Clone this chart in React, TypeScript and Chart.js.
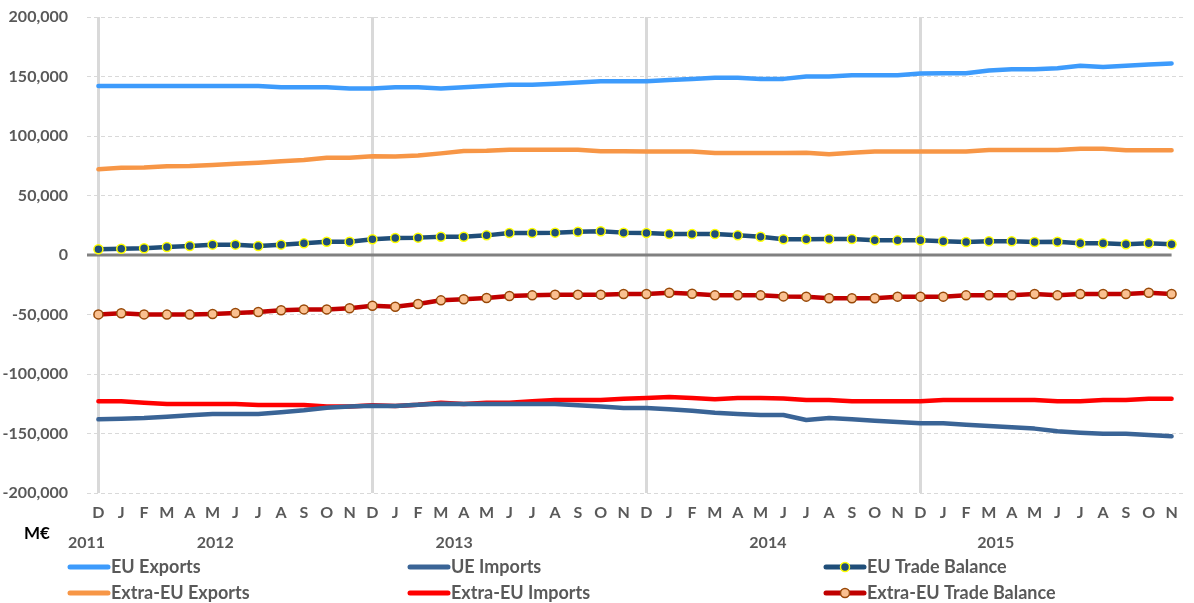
import React, { useEffect, useRef } from 'react';
import { Chart, registerables } from 'chart.js';

Chart.register(...registerables);

const monthLabels = [
  'D', 'J', 'F', 'M', 'A', 'M', 'J', 'J', 'A', 'S', 'O', 'N',
  'D', 'J', 'F', 'M', 'A', 'M', 'J', 'J', 'A', 'S', 'O', 'N',
  'D', 'J', 'F', 'M', 'A', 'M', 'J', 'J', 'A', 'S', 'O', 'N',
  'D', 'J', 'F', 'M', 'A', 'M', 'J', 'J', 'A', 'S', 'O', 'N',
];

const yearLabels = ['2011', '2012', '2013', '2014', '2015'];
const yearLabelPos = [-0.52, 5.12, 15.58, 29.32, 39.3];

const yTicks = [-200000, -150000, -100000, -50000, 0, 50000, 100000, 150000, 200000];

const euExports = [
  142000, 142000, 142000, 142000, 142000, 142000, 142000, 142000, 141000, 141000, 141000, 140000,
  140000, 141000, 141000, 140000, 141000, 142000, 143000, 143000, 144000, 145000, 146000, 146000,
  146000, 147000, 148000, 149000, 149000, 148000, 148000, 150000, 150000, 151000, 151000, 151000,
  152500, 152700, 152700, 155000, 156000, 156000, 157000, 159000, 158000, 159000, 160000, 161000,
];

const ueImports = [
  -138100, -137600, -137000, -135900, -134700, -133600, -133600, -133600, -132200, -130500, -128300, -127400,
  -126600, -126900, -125800, -125000, -125200, -125200, -125200, -125200, -125200, -126300, -127400, -128600,
  -128600, -129700, -130800, -132500, -133600, -134400, -134500, -138600, -137000, -138100, -139200, -140300,
  -141400, -141400, -142600, -143700, -144800, -145900, -148200, -149300, -150200, -150200, -151300, -152400,
];

const euTradeBalance = [
  4800, 5300, 5600, 6700, 7600, 8700, 8700, 7600, 8700, 9800, 11200, 11200,
  13200, 14300, 14600, 15400, 15400, 16500, 18500, 18500, 18800, 19600, 19900, 18800,
  18500, 17600, 17600, 17600, 16500, 15400, 13300, 13200, 13400, 13400, 12300, 12300,
  12300, 11500, 10900, 11500, 11500, 10900, 11200, 9800, 9800, 9000, 9800, 9000,
];

const extraEuExports = [
  72000, 73400, 73500, 74500, 74800, 75600, 76700, 77600, 78700, 79800, 81800, 81800,
  82900, 82800, 83700, 85400, 87400, 87600, 88500, 88500, 88500, 88500, 87100, 87100,
  87000, 87000, 87000, 85700, 85700, 85700, 85800, 86000, 84600, 86000, 87000, 87000,
  87000, 87000, 87000, 88200, 88200, 88200, 88200, 89300, 89300, 88000, 88000, 88000,
];

const extraEuImports = [
  -122900, -122900, -124100, -125200, -125200, -125200, -125200, -126000, -126000, -126000, -127400, -127400,
  -126300, -126900, -125800, -124100, -125200, -124100, -124100, -122900, -121800, -121800, -121800, -120700,
  -120200, -119300, -120200, -121300, -120200, -120200, -120500, -121800, -121800, -122900, -122900, -122900,
  -122900, -121800, -121800, -121800, -121800, -121800, -122900, -122900, -121800, -121800, -120700, -120700,
];

const extraEuTradeBalance = [
  -49900, -49000, -49900, -50100, -50100, -49600, -48700, -47900, -46500, -45700, -45700, -44800,
  -42600, -43500, -41200, -38100, -37200, -36100, -34500, -33900, -33300, -33300, -33300, -32800,
  -32800, -31700, -32500, -33900, -33900, -33900, -34800, -35000, -36400, -36400, -36400, -35000,
  -35000, -35000, -33900, -33900, -33900, -32800, -33900, -32800, -32800, -32800, -31700, -32800,
];

const legendColX = [70, 410, 826];
const legendRowY = [567, 593];

const TEXT = '#595959';
const FONT = 'Lato, "Open Sans", sans-serif';

const overlayPlugin = {
  id: 'overlay',
  beforeDatasetsDraw(chart: any) {
    const { ctx, chartArea, scales } = chart;
    const x = scales.x;
    const y = scales.y;
    const y0 = y.getPixelForValue(0);
    ctx.save();
    ctx.strokeStyle = '#808080';
    ctx.lineWidth = 3;
    ctx.beginPath();
    ctx.moveTo(chartArea.left, y0);
    ctx.lineTo(x.getPixelForValue(monthLabels.length - 1), y0);
    ctx.stroke();
    ctx.restore();
  },
  afterDraw(chart: any) {
    const { ctx, scales } = chart;
    const x = scales.x;
    ctx.save();
    ctx.font = `bold 16px ${FONT}`;
    ctx.fillStyle = TEXT;
    ctx.textAlign = 'center';
    ctx.textBaseline = 'middle';
    yearLabels.forEach((t, i) => {
      ctx.fillText(t, x.getPixelForValue(yearLabelPos[i]), 543);
    });
    ctx.fillStyle = '#000000';
    ctx.font = `bold 17px ${FONT}`;
    ctx.textAlign = 'left';
    ctx.fillText('M€', 24, 534);

    ctx.font = `bold 18px ${FONT}`;
    chart.data.datasets.forEach((ds: any, k: number) => {
      const col = k % 3;
      const row = Math.floor(k / 3);
      const lx = legendColX[col];
      const ly = legendRowY[row];
      ctx.strokeStyle = ds.borderColor;
      ctx.lineWidth = 5;
      ctx.lineCap = 'round';
      ctx.beginPath();
      ctx.moveTo(lx, ly);
      ctx.lineTo(lx + 38, ly);
      ctx.stroke();
      if (ds.pointRadius > 0) {
        ctx.beginPath();
        ctx.arc(lx + 19, ly, 4.5, 0, Math.PI * 2);
        ctx.fillStyle = ds.pointBackgroundColor;
        ctx.fill();
        ctx.lineWidth = 1.5;
        ctx.strokeStyle = ds.pointBorderColor;
        ctx.stroke();
      }
      ctx.fillStyle = TEXT;
      ctx.textAlign = 'left';
      ctx.textBaseline = 'middle';
      ctx.fillText(ds.label, lx + 41, ly);
    });
    ctx.restore();
  },
};

export default function App() {
  const canvasRef = useRef<HTMLCanvasElement | null>(null);

  useEffect(() => {
    document.body.style.margin = '0';
    const canvas = canvasRef.current;
    if (!canvas) return;
    Chart.defaults.font.family = FONT;

    const lineDs = (label: string, data: number[], color: string) => ({
      label,
      data,
      borderColor: color,
      backgroundColor: color,
      borderWidth: 4.5,
      pointRadius: 0,
      pointHoverRadius: 0,
      tension: 0,
      borderCapStyle: 'round',
      borderJoinStyle: 'round',
    });
    const markerDs = (label: string, data: number[], color: string, fill: string, border: string) => ({
      label,
      data,
      borderColor: color,
      backgroundColor: color,
      borderWidth: 4.5,
      pointRadius: 4.5,
      pointHoverRadius: 4.5,
      pointBackgroundColor: fill,
      pointBorderColor: border,
      pointBorderWidth: 1.5,
      tension: 0,
      borderCapStyle: 'round',
      borderJoinStyle: 'round',
    });

    const chart = new Chart(canvas, {
      type: 'line',
      data: {
        labels: monthLabels,
        datasets: [
          lineDs('EU Exports', euExports, '#3d9bfc'),
          lineDs('UE Imports', ueImports, '#3a6496'),
          markerDs('EU Trade Balance', euTradeBalance, '#1f4e79', '#1f4e79', '#ffff00'),
          lineDs('Extra-EU Exports', extraEuExports, '#f79646'),
          lineDs('Extra-EU Imports', extraEuImports, '#ff0000'),
          markerDs('Extra-EU Trade Balance', extraEuTradeBalance, '#c00000', '#fac090', '#984807'),
        ] as any,
      },
      options: {
        animation: false,
        responsive: true,
        maintainAspectRatio: false,
        layout: { padding: { left: 0, right: 11, top: 17, bottom: 80 } },
        plugins: {
          legend: { display: false },
          tooltip: { enabled: false },
        },
        scales: {
          x: {
            type: 'category',
            offset: true,
            afterFit: (s: any) => { s.height = 30; },
            grid: {
              offset: false,
              drawTicks: false,
              color: (c: any) => (c.index % 12 === 0 ? '#d9d9d9' : 'rgba(0,0,0,0)'),
              lineWidth: (c: any) => (c.index % 12 === 0 ? 3 : 0),
            },
            border: { display: false },
            ticks: {
              autoSkip: false,
              maxRotation: 0,
              minRotation: 0,
              padding: 10,
              color: TEXT,
              font: { size: 16, weight: 'bold', family: FONT },
            },
          },
          y: {
            min: -200000,
            max: 200000,
            afterFit: (s: any) => {
              s.width = 87;
              s.paddingTop = 8;
              s.paddingBottom = 8;
            },
            afterBuildTicks: (s: any) => { s.ticks = yTicks.map((v) => ({ value: v })); },
            grid: {
              drawTicks: false,
              color: (c: any) => (c.tick && c.tick.value === 0 ? 'rgba(0,0,0,0)' : '#d9d9d9'),
              lineWidth: 1,
            },
            border: { display: false, dash: [4, 3] },
            ticks: {
              padding: 19,
              color: TEXT,
              font: { size: 16, weight: 'bold', family: FONT },
              callback: (v: any) => Number(v).toLocaleString('en-US'),
            },
          },
        },
      },
      plugins: [overlayPlugin],
    } as any);

    return () => chart.destroy();
  }, []);

  return (
    <div style={{ width: 1194, height: 603, position: 'relative', background: '#ffffff' }}>
      <canvas ref={canvasRef} />
    </div>
  );
}
